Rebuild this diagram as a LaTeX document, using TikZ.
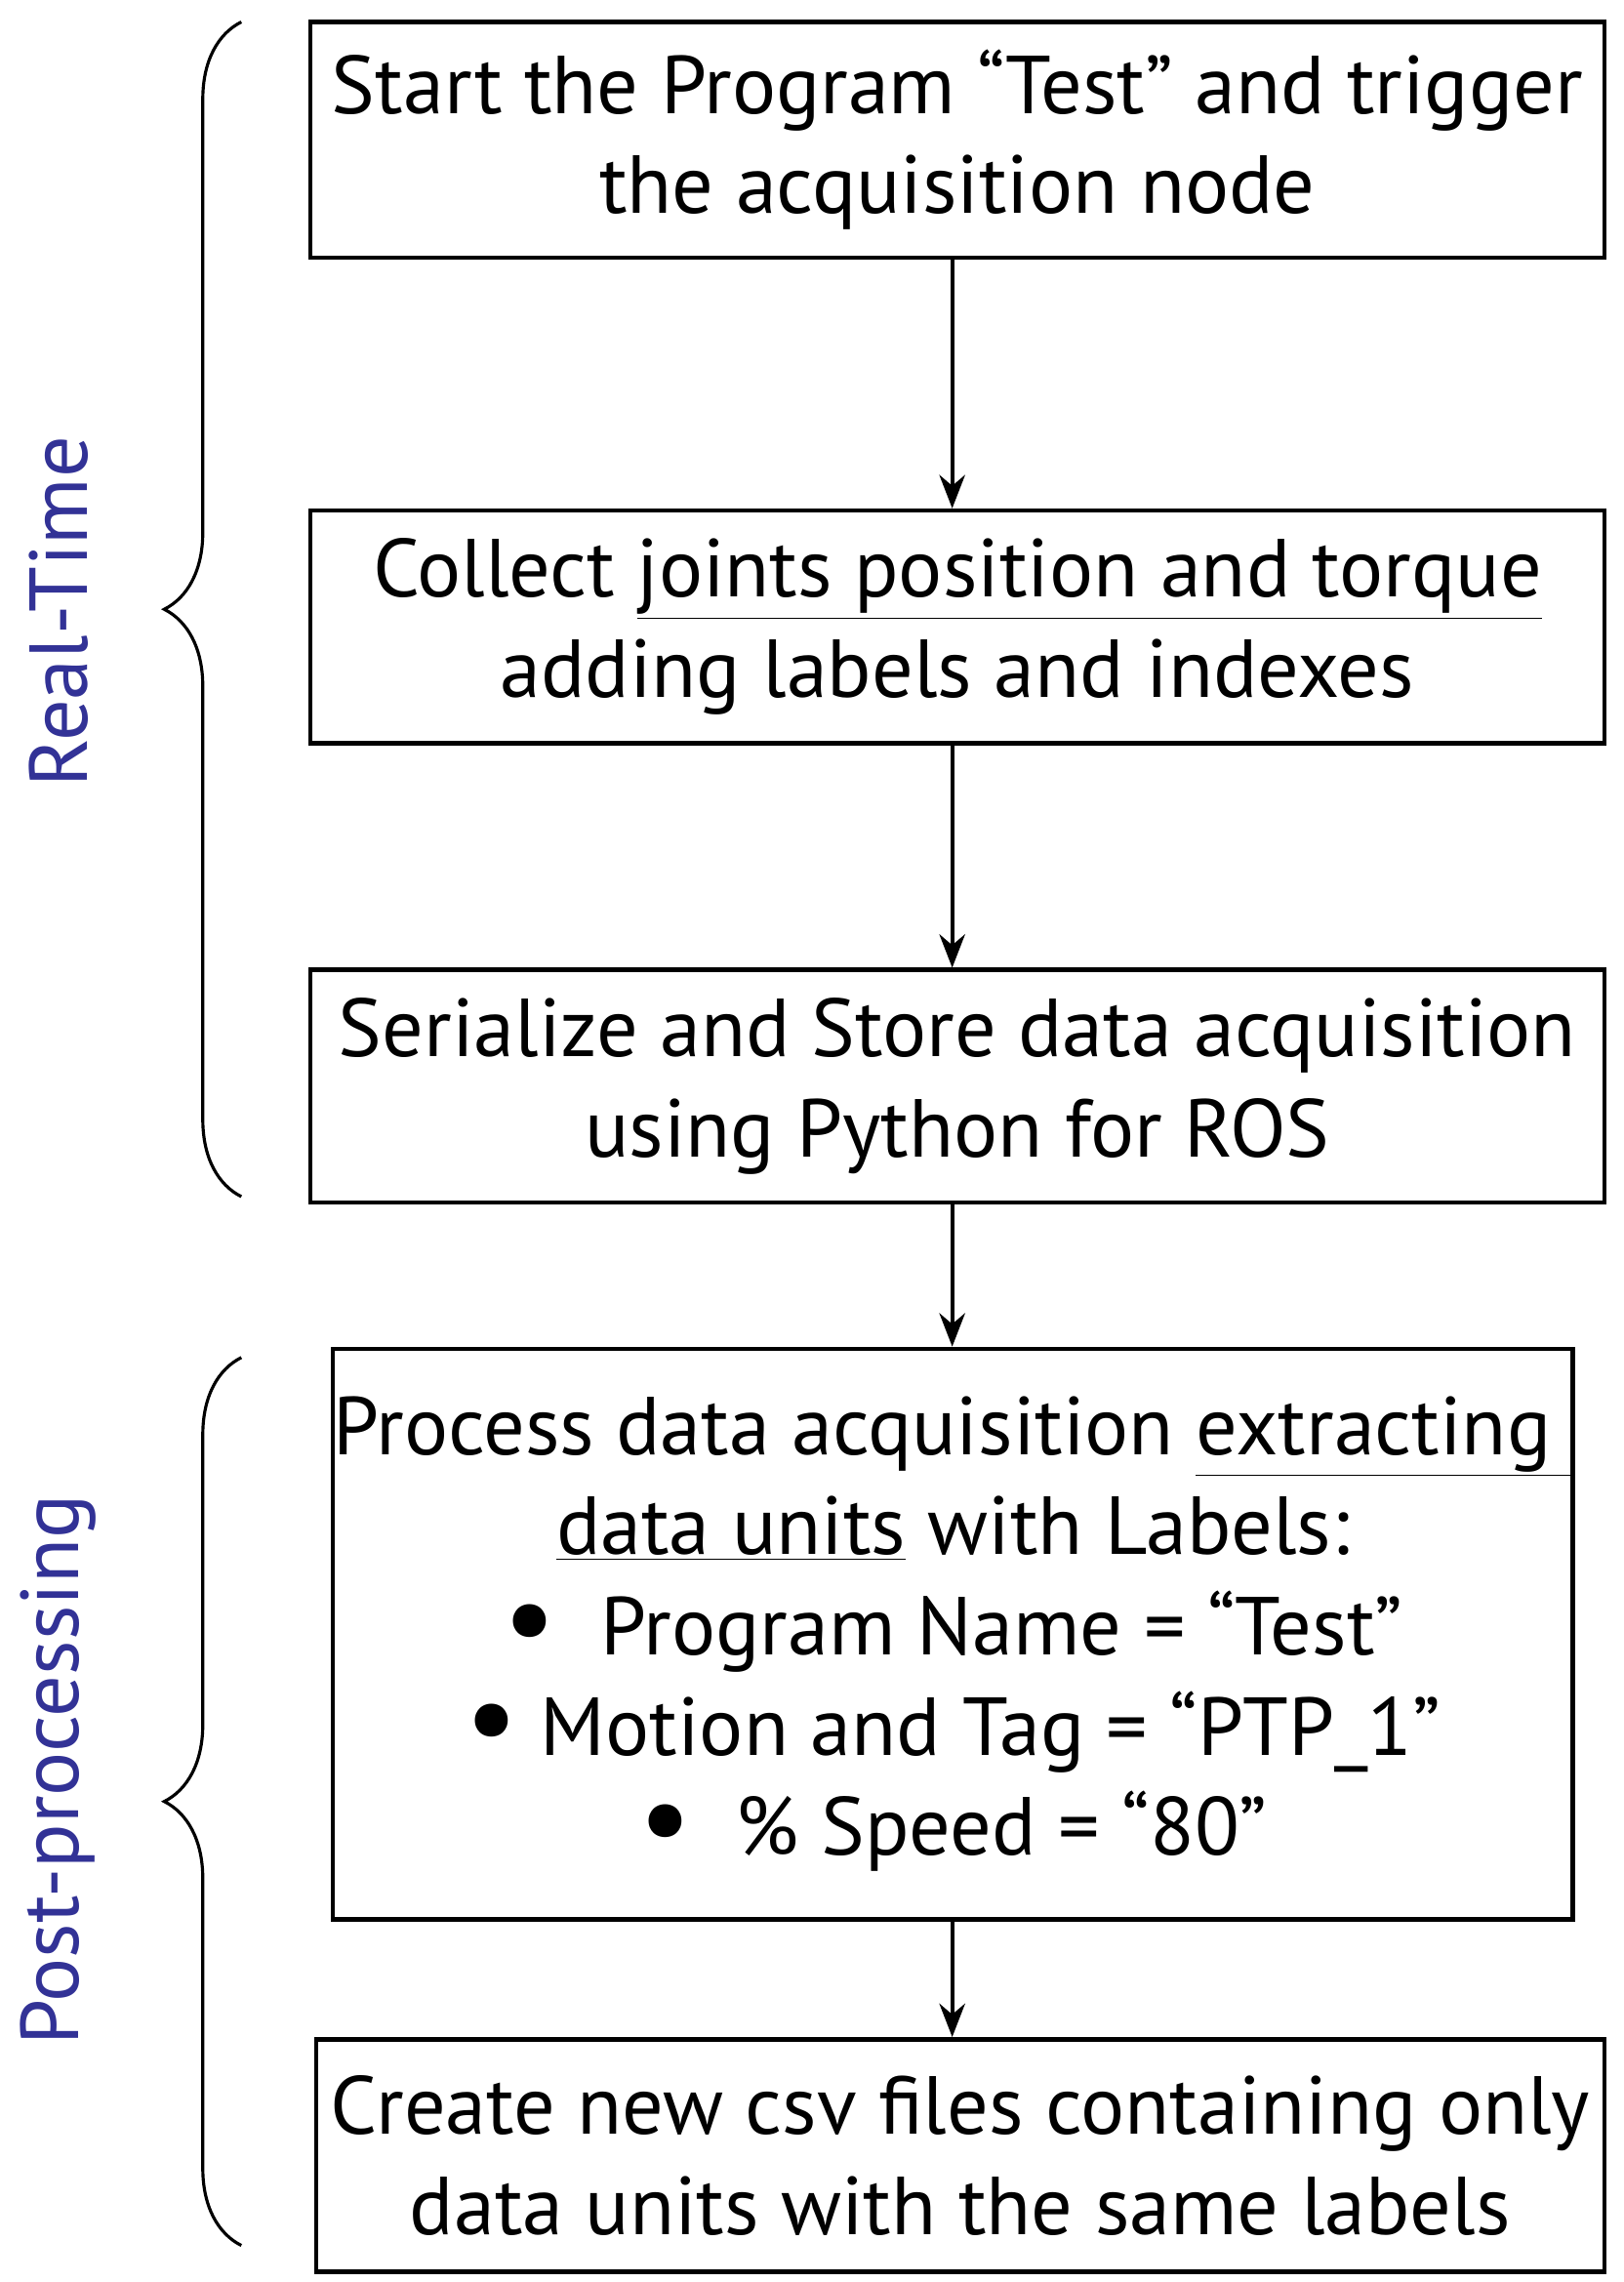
\documentclass[tikz,border=0pt]{standalone}
\usepackage{fontspec}
\setmainfont{PT Sans}
\usetikzlibrary{decorations.pathreplacing,arrows.meta}
\definecolor{lab}{RGB}{50,50,150}
\newcommand{\bul}{{\fontsize{46}{39}\selectfont\raisebox{-1pt}{\textbullet}}}
\begin{document}
\begin{tikzpicture}[x=0.02cm,y=-0.02cm,
 box/.style={draw,line width=1.7pt,inner sep=0pt,align=center,font=\fontsize{32}{39}\selectfont},
 arr/.style={-{Stealth[length=13pt,width=10pt]},line width=1.6pt},
 br/.style={decorate,decoration={brace,amplitude=30pt},line width=1.2pt},
 lbl/.style={rotate=90,text=lab,font=\fontsize{32}{37}\selectfont}]
\useasboundingbox (0,0) rectangle (1110,1560);
\node[box,minimum width=17.7cm,minimum height=3.22cm] (b1) at (654.5,95.5) {Start the Program “Test” and trigger\\the acquisition node};
\node[box,minimum width=17.7cm,minimum height=3.18cm] (b2) at (654.5,428.5) {Collect \underline{joints position and torque}\\adding labels and indexes};
\node[box,minimum width=17.7cm,minimum height=3.18cm] (b3) at (654.5,742.5) {Serialize and Store data acquisition\\using Python for ROS};
\node[box,minimum width=16.18cm,minimum height=7.8cm] (b4) at (651.5,1117) {Process data acquisition \underline{extracting\ }\\\underline{data units} with Labels:\\\bul\ \ Program Name = “Test”\\\bul\ Motion and Tag = “PTP\_1”\\\bul\ \ \% Speed = “80”};
\node[box,minimum width=17.62cm,minimum height=3.18cm] (b5) at (656.5,1473.5) {Create new csv files containing only\\data units with the same labels};
\draw[arr] (b1.south -| 651,0) -- (b2.north -| 651,0);
\draw[arr] (b2.south -| 651,0) -- (b3.north -| 651,0);
\draw[arr] (b3.south -| 651,0) -- (b4.north -| 651,0);
\draw[arr] (b4.south -| 651,0) -- (b5.north -| 651,0);
\coordinate (r1) at (165,818); \coordinate (r2) at (165,15);
\coordinate (p1) at (165,1535); \coordinate (p2) at (165,928);
\draw[br] (r1) -- (r2);
\draw[br] (p1) -- (p2);
\node[lbl] (t1) at (40,418) {Real-Time};
\node[lbl] (t2) at (40,1210) {Post-processing};
\end{tikzpicture}
\end{document}
